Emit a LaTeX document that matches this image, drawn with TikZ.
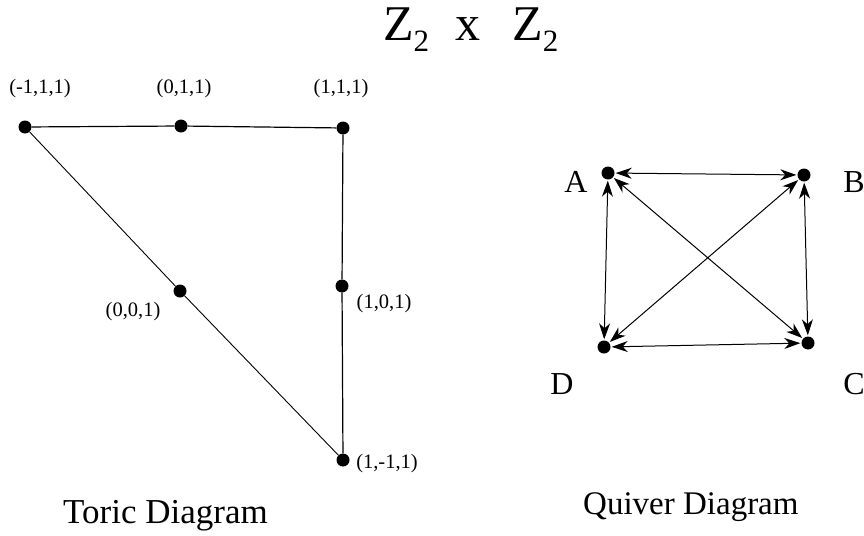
\documentclass[tikz,border=0pt]{standalone}
\usepackage{fontspec}
\setmainfont{Liberation Serif}
\usetikzlibrary{arrows.meta}
\begin{document}
\begin{tikzpicture}[x=1pt,y=-1pt,
  dot/.style={circle,fill=black,inner sep=0pt,minimum size=13pt},
  coordlabel/.style={font=\fontsize{20.5}{20.5}\selectfont,inner sep=0pt},
  vlabel/.style={font=\fontsize{32}{32}\selectfont,inner sep=0pt},
  caption/.style={font=\fontsize{33}{33}\selectfont,inner sep=0pt,anchor=base west},
  edge/.style={line width=1.2pt},
  quiv/.style={line width=1pt,{Stealth[length=16pt,width=11pt,inset=5pt]}-{Stealth[length=16pt,width=11pt,inset=5pt]},shorten <=1pt,shorten >=1pt}
]
\useasboundingbox (0,0) rectangle (864,535);
% title
\node[font=\fontsize{50}{50}\selectfont,inner sep=0pt,anchor=base west] (title) at (383,41)
  {Z\raisebox{-11pt}{\fontsize{31}{31}\selectfont 2}\hspace{26pt}x\hspace{32pt}Z\raisebox{-11pt}{\fontsize{31}{31}\selectfont 2}};
% toric diagram
\node[dot] (m11) at (25,127) {};
\node[dot] (z11) at (181,126) {};
\node[dot] (p11) at (343,128) {};
\node[dot] (z01) at (180,291) {};
\node[dot] (p01) at (342,286) {};
\node[dot] (pm1) at (343,460) {};
\draw[edge] (m11) -- (z11) -- (p11) -- (p01) -- (pm1);
\draw[line width=0.9pt] (pm1) -- (z01) -- (m11);
\node[coordlabel] (lm11) at (40,89) {(-1,1,1)};
\node[coordlabel] (lz11) at (184,89) {(0,1,1)};
\node[coordlabel] (lp11) at (341,89) {(1,1,1)};
\node[coordlabel] (lz01) at (133,312) {(0,0,1)};
\node[coordlabel] (lp01) at (384,304) {(1,0,1)};
\node[coordlabel] (lpm1) at (387,464) {(1,-1,1)};
\node[caption,font=\fontsize{35}{35}\selectfont] (toric) at (63,523) {Toric Diagram};
% quiver diagram
\node[dot] (A) at (608,173) {};
\node[dot] (B) at (804,175) {};
\node[dot] (C) at (808,343) {};
\node[dot] (D) at (604,347) {};
\draw[quiv] (A) -- (B);
\draw[quiv] (D) -- (C);
\draw[quiv] (A) -- (D);
\draw[quiv] (B) -- (C);
\draw[quiv] (A) -- (C);
\draw[quiv] (B) -- (D);
\node[vlabel] (lA) at (576,182) {A};
\node[vlabel] (lB) at (854,182) {B};
\node[vlabel] (lC) at (854,384) {C};
\node[vlabel] (lD) at (562,384) {D};
\node[caption] (quiver) at (583,514) {Quiver Diagram};
\end{tikzpicture}
\end{document}
